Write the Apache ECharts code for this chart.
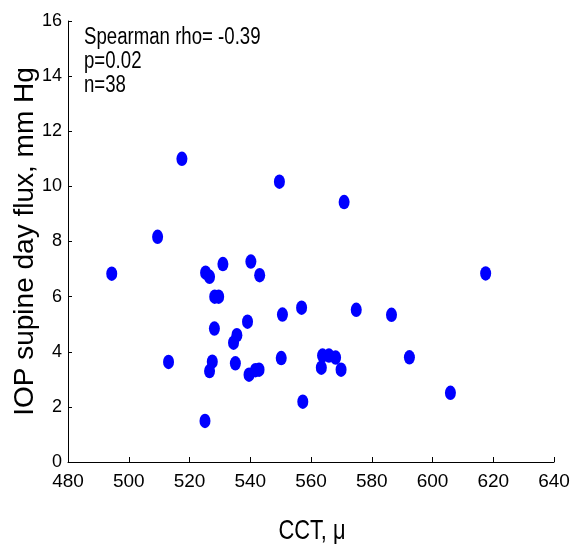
<!DOCTYPE html>
<html>
<head>
<meta charset="utf-8">
<script src="https://cdn.jsdelivr.net/npm/echarts@6/dist/echarts.min.js"></script>
<style>html,body{margin:0;padding:0;background:#fff;}#c{width:571px;height:544px;}</style>
</head>
<body>
<div id="c"></div>
<script>
var cct = [494.4, 509.5, 513.1, 517.5, 525.3, 526.6, 525.1, 526.6, 527.5, 528.2,
           528.3, 529.6, 531.0, 534.5, 535.6, 535.1, 539.1, 539.6, 540.2, 541.7,
           542.9, 543.1, 549.6, 550.2, 550.6, 556.9, 557.3, 563.4, 563.8, 565.9,
           568.1, 569.9, 570.9, 574.9, 586.5, 592.4, 605.9, 617.5];
var iopFlux = [6.83, 8.17, 3.63, 11.0, 6.87, 6.72, 1.49, 3.30, 3.64, 4.84,
               6.00, 6.00, 7.18, 4.33, 4.60, 3.58, 5.09, 3.17, 7.27, 3.33,
               3.35, 6.78, 10.17, 3.77, 5.35, 5.60, 2.19, 3.42, 3.86, 3.86,
               3.79, 3.35, 9.43, 5.52, 5.34, 3.80, 2.51, 6.84];
var xTicks = [480, 500, 520, 540, 560, 580, 600, 620, 640];
var yTicks = [0, 2, 4, 6, 8, 10, 12, 14, 16];
var xTitle = 'CCT, \u03bc';
var yTitle = 'IOP supine day flux, mm Hg';
var statLines = ['Spearman rho= -0.39', 'p=0.02', 'n=38'];

var points = cct.map(function (x, i) { return [x, iopFlux[i]]; });
var font = "'Liberation Sans', Arial, sans-serif";

var chart = echarts.init(document.getElementById('c'), null, {renderer: 'canvas'});
var graphics = statLines.map(function (t, i) {
  return {
    type: 'text', x: 84, y: 38 + i * 24, scaleX: 0.81,
    style: {text: t, fill: '#000', font: '23px ' + font, textAlign: 'left', textVerticalAlign: 'middle'}
  };
});
graphics.push({
  type: 'text', x: 312, y: 531, scaleX: 0.78,
  style: {text: xTitle, fill: '#000', font: '28px ' + font, textAlign: 'center', textVerticalAlign: 'middle'}
});
chart.setOption({
  animation: false,
  backgroundColor: '#fff',
  grid: {left: 68, right: 17, top: 21, bottom: 82, containLabel: false, outerBoundsMode: 'none'},
  xAxis: {
    type: 'value', min: xTicks[0], max: xTicks[xTicks.length - 1], interval: 20,
    axisLine: {show: true, lineStyle: {color: '#000', width: 1}},
    axisTick: {show: true, inside: true, length: 5, lineStyle: {color: '#000'}},
    axisLabel: {margin: 10, fontFamily: font, fontSize: 19, color: '#000'},
    splitLine: {show: false}
  },
  yAxis: {
    type: 'value', min: yTicks[0], max: yTicks[yTicks.length - 1], interval: 2,
    name: yTitle, nameLocation: 'middle', nameGap: 29, nameRotate: 90, nameMoveOverlap: false,
    nameTextStyle: {fontFamily: font, fontSize: 28, color: '#000'},
    axisLine: {show: true, lineStyle: {color: '#000', width: 1}},
    axisTick: {show: true, inside: true, length: 4, lineStyle: {color: '#000'}},
    axisLabel: {margin: 6, fontFamily: font, fontSize: 18, color: '#000'},
    splitLine: {show: false}
  },
  graphic: graphics,
  series: [{
    type: 'scatter',
    data: points,
    symbol: 'circle',
    symbolSize: [11, 14.5],
    itemStyle: {color: '#0000ff', opacity: 1}
  }]
});
</script>
</body>
</html>
